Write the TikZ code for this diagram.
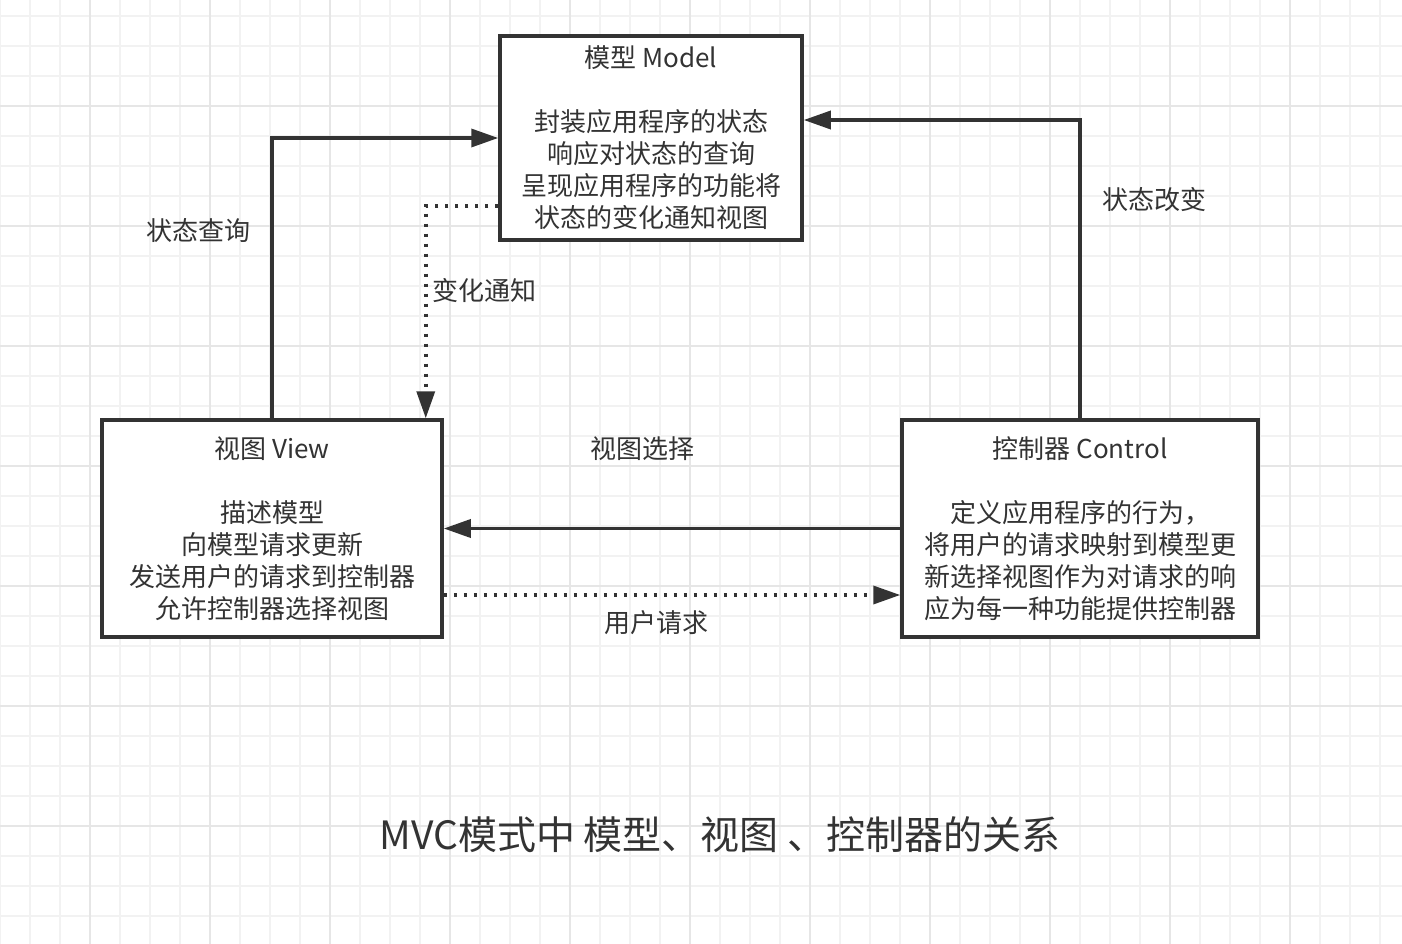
\documentclass[tikz,border=0pt]{standalone}
\usepackage{fontspec}
\setmainfont{Noto Sans CJK SC}
\usetikzlibrary{arrows.meta}
\definecolor{ink}{HTML}{333333}
\definecolor{gridminor}{HTML}{F2F2F2}
\definecolor{gridmajor}{HTML}{E6E6E6}
\tikzset{
  box/.style={draw=ink, line width=3.5pt, fill=white, align=center, text=ink,
    font=\fontsize{26}{32}\selectfont, inner sep=0pt},
  arr/.style={draw=ink, line width=3.5pt, -{Triangle[length=27pt,width=18pt]}},
  dotarr/.style={arr, dash pattern=on 3.5pt off 6.5pt},
  lbl/.style={text=ink, font=\fontsize{26}{32}\selectfont},
}
\begin{document}
\begin{tikzpicture}[x=1pt,y=-1pt]
\useasboundingbox (0,0) rectangle (1402,944);
\begin{scope}
\clip (0,0) rectangle (1402,944);
\fill[white] (0,0) rectangle (1402,944);
\foreach \gx in {0,30,...,1410} \draw[gridminor, line width=1.5pt] (\gx,0) -- (\gx,944);
\foreach \gy in {16,46,...,946} \draw[gridminor, line width=1.5pt] (0,\gy) -- (1402,\gy);
\foreach \gx in {90,210,...,1410} \draw[gridmajor, line width=1.5pt] (\gx,0) -- (\gx,944);
\foreach \gy in {-14,106,...,946} \draw[gridmajor, line width=1.5pt] (0,\gy) -- (1402,\gy);
\end{scope}

\node[box, minimum width=302, minimum height=204] (model) at (651,138)
  {模型 Model\\[32pt]封装应用程序的状态\\响应对状态的查询\\呈现应用程序的功能将\\状态的变化通知视图};
\node[box, minimum width=340, minimum height=217] (view) at (272,528.5)
  {视图 View\\[32pt]描述模型\\向模型请求更新\\发送用户的请求到控制器\\允许控制器选择视图};
\node[box, minimum width=356, minimum height=217] (control) at (1080,528.5)
  {控制器 Control\\[32pt]定义应用程序的行为，\\将用户的请求映射到模型更\\新选择视图作为对请求的响\\应为每一种功能提供控制器};

\draw[arr] (view.north) |- (model.west);
\draw[arr] (control.north) |- ([yshift=18pt]model.east);
\draw[dotarr] ([yshift=-68pt]model.west) -| ([xshift=-18pt]view.north east);
\draw[arr] (control.west) -- (view.east);
\draw[dotarr] ([yshift=-66.5pt]view.east) -- ([yshift=-66.5pt]control.west);

\node[lbl] (query) at (198,231) {状态查询};
\node[lbl] (change) at (1154,200) {状态改变};
\node[lbl] (notify) at (484,291) {变化通知};
\node[lbl] (select) at (642,449) {视图选择};
\node[lbl] (request) at (656,623) {用户请求};

\node[text=ink, font=\fontsize{39}{46}\selectfont] (title) at (720,835)
  {MVC模式中 模型、视图 、控制器的关系};
\end{tikzpicture}
\end{document}
